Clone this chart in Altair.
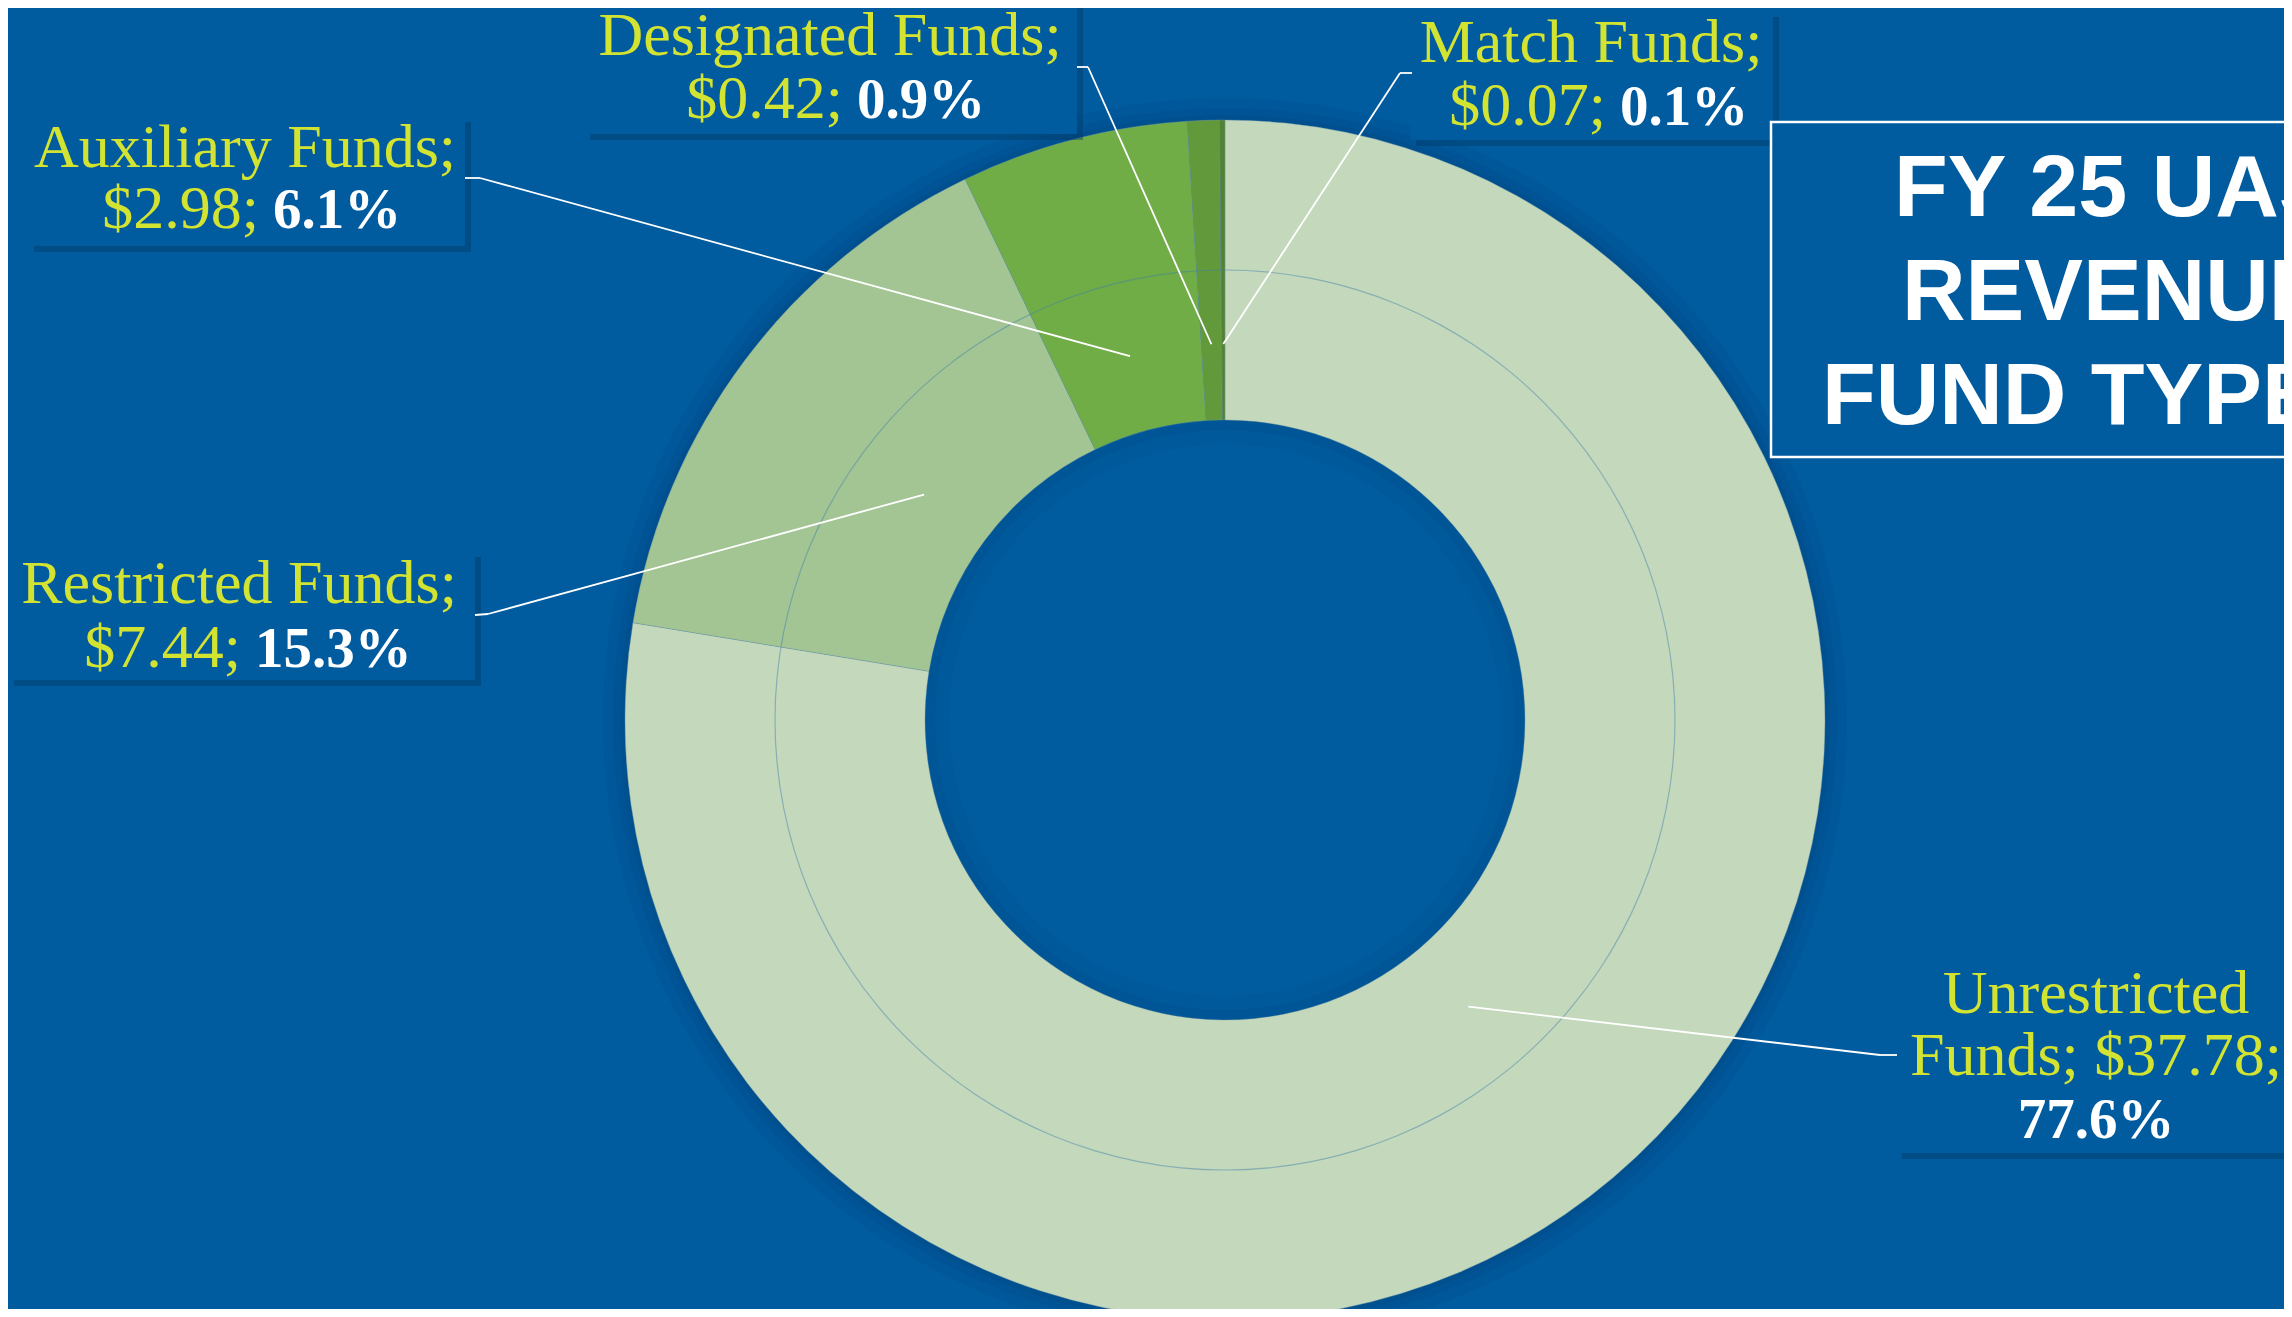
import altair as alt
import numpy as np
import pandas as pd

# ---------------- data ----------------
funds = ["Unrestricted Funds", "Restricted Funds", "Auxiliary Funds", "Designated Funds", "Match Funds"]
amounts = [37.78, 7.44, 2.98, 0.42, 0.07]
colors = ["#C4D8BC", "#A3C594", "#70AD47", "#62993B", "#548235"]
title_lines = ["FY 25 UAS", "REVENUE", "FUND TYPE"]

# ---------------- layout / style ----------------
W, H = 2276, 1301
CX, CY = 1217, 712
R_OUT, R_IN, R_GUIDE, R_LEADER = 600, 300, 450, 376
BG = "#005B9F"
YELLOW = "#D3E331"
SERIF = "Liberation Serif"
FS = 62
FS_BOLD = 57

layout = {
    "Unrestricted Funds": dict(box=(1889, 949, 2300, 1145), cx=2088, base=(1005, 1067, 1130),
                               edge=(1889, 1047), elbow=(1872, 1047)),
    "Restricted Funds": dict(box=(1, 544, 467, 672), cx=231, base=(595, 659), wl=247,
                             edge=(467, 607), elbow=(480, 606)),
    "Auxiliary Funds": dict(box=(21, 109, 457, 238), cx=237, base=(159, 220), wl=265,
                            edge=(457, 170), elbow=(472, 170)),
    "Designated Funds": dict(box=(577, -8, 1069, 126), cx=822, base=(47, 110), wl=849,
                             edge=(1069, 59), elbow=(1080, 59)),
    "Match Funds": dict(box=(1403, 4, 1765, 132), cx=1583, base=(54, 117), wl=1612,
                        edge=(1404, 65), elbow=(1392, 65)),
}
title_box = (1763, 114, 2300, 449)
title_pos = [(1886, 208), (1894, 312), (1814, 416)]

# ---------------- derived tables ----------------
amt = np.array(amounts)
total = amt.sum()
pct = amt / total * 100
cum = np.cumsum(amt) / total
mid = (cum - amt / total / 2) * 2 * np.pi

df = pd.DataFrame({"fund": funds, "amount": amounts, "idx": range(len(funds))})

yc, yr, wlft, wc, boxes, segs = [], [], [], [], [], []
for i, f in enumerate(funds):
    L = layout[f]
    a_txt = f"${amounts[i]:.2f};"
    p_txt = f"{pct[i]:.1f}%"
    if len(L["base"]) == 3:
        first, rest = f.split(" ", 1)
        yc.append(dict(t=first, x=L["cx"], y=L["base"][0]))
        yc.append(dict(t=rest + "; " + a_txt, x=L["cx"], y=L["base"][1]))
        wc.append(dict(t=p_txt, x=L["cx"], y=L["base"][2]))
    else:
        yc.append(dict(t=f + ";", x=L["cx"], y=L["base"][0]))
        yr.append(dict(t=a_txt, x=L["wl"] - 14, y=L["base"][1]))
        wlft.append(dict(t=p_txt, x=L["wl"], y=L["base"][1]))
    x1, y1, x2, y2 = L["box"]
    boxes.append(dict(x1=x1, y1=y1, x2=x2, y2=y2, sx1=x1 + 5, sy1=y1 + 5, sx2=x2 + 6, sy2=y2 + 6))
    px = CX + R_LEADER * np.sin(mid[i])
    py = CY - R_LEADER * np.cos(mid[i])
    segs.append(dict(x=L["edge"][0], y=L["edge"][1], x2=L["elbow"][0], y2=L["elbow"][1]))
    segs.append(dict(x=L["elbow"][0], y=L["elbow"][1], x2=float(px), y2=float(py)))

df_yc, df_yr, df_wl, df_wc = map(pd.DataFrame, (yc, yr, wlft, wc))
df_boxes = pd.DataFrame(boxes)
df_segs = pd.DataFrame(segs)
df_title = pd.DataFrame({"t": title_lines, "x": [p[0] for p in title_pos], "y": [p[1] for p in title_pos]})
df_tbox = pd.DataFrame([dict(x1=title_box[0], y1=title_box[1], x2=title_box[2], y2=title_box[3])])
one = pd.DataFrame({"k": [0]})

PX = lambda f: alt.X(f, scale=None, axis=None)
PY = lambda f: alt.Y(f, scale=None, axis=None)
center = dict(x=alt.value(CX), y=alt.value(CY))
TWO_PI = 2 * np.pi

def ring(r_out, r_in, color, opacity, t0=0.0, t1=TWO_PI):
    return alt.Chart(one).mark_arc(radius=r_out, radius2=r_in, theta=t0, theta2=t1,
                                   color=color, opacity=opacity).encode(**center)

halo = [ring(622, 612, "#002A50", 0.06), ring(612, 605, "#002A50", 0.12), ring(605, 599, "#002A50", 0.2)]

donut = alt.Chart(df).mark_arc(radius=R_OUT, radius2=R_IN, stroke="#6F98A8", strokeWidth=0.4).encode(
    theta=alt.Theta("amount:Q", stack=True),
    order=alt.Order("idx:Q", sort="ascending"),
    color=alt.Color("fund:N", scale=alt.Scale(domain=funds, range=colors), legend=None),
    **center,
)

guide = ring(R_GUIDE + 0.6, R_GUIDE - 0.6, "#3F7FA8", 0.45)
inner_sh = [ring(300, 290, "#002A50", 0.1), ring(290, 276, "#002A50", 0.04)]

shadows = alt.Chart(df_boxes).mark_rect(color="#003660", opacity=0.4).encode(
    x=PX("sx1:Q"), x2="sx2:Q", y=PY("sy1:Q"), y2="sy2:Q")
box_rects = alt.Chart(df_boxes).mark_rect(color=BG).encode(
    x=PX("x1:Q"), x2="x2:Q", y=PY("y1:Q"), y2="y2:Q")
tbox = alt.Chart(df_tbox).mark_rect(fill=BG, stroke="white", strokeWidth=2.5).encode(
    x=PX("x1:Q"), x2="x2:Q", y=PY("y1:Q"), y2="y2:Q")

leaders = alt.Chart(df_segs).mark_rule(color="white", strokeWidth=1.8).encode(
    x=PX("x:Q"), x2="x2:Q", y=PY("y:Q"), y2="y2:Q")

def texts(d, align, color, weight, font=SERIF, size=FS):
    return alt.Chart(d).mark_text(align=align, baseline="alphabetic", font=font, fontSize=size,
                                  fontWeight=weight, color=color).encode(
        x=PX("x:Q"), y=PY("y:Q"), text="t:N")

t_yc = texts(df_yc, "center", YELLOW, "normal")
t_yr = texts(df_yr, "right", YELLOW, "normal")
t_wl = texts(df_wl, "left", "white", "bold", size=FS_BOLD)
t_wc = texts(df_wc, "center", "white", "bold", size=FS_BOLD)
t_title = texts(df_title, "left", "white", "bold", font="Liberation Sans", size=88)

chart = alt.layer(
    *halo, donut, guide, *inner_sh, shadows, box_rects, tbox, leaders,
    t_yc, t_yr, t_wl, t_wc, t_title,
).properties(
    width=W, height=H, padding=0, autosize=alt.AutoSizeParams(type="none"),
).configure(background=BG).configure_view(stroke=None)

chart.save("out.html", embed_options={"renderer": "svg", "actions": False})
